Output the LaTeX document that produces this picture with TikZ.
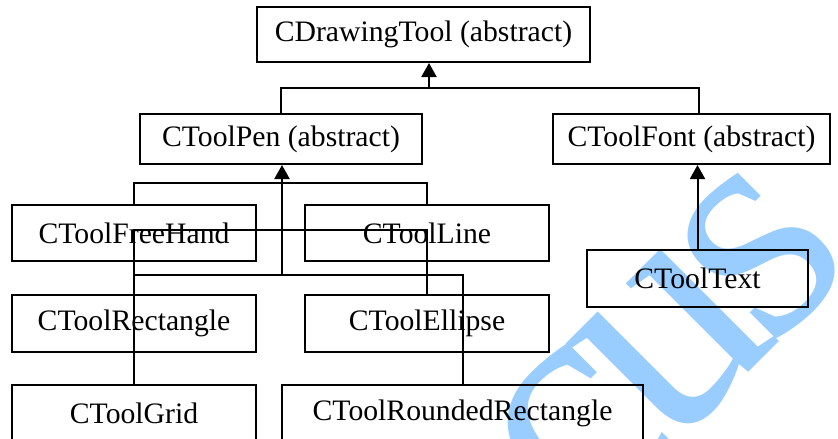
\documentclass[tikz,border=0pt]{standalone}
\usepackage{fontspec}
\setmainfont{Liberation Serif}
\usetikzlibrary{arrows.meta}
\definecolor{wmblue}{RGB}{153,204,255}

\begin{document}
\begin{tikzpicture}[x=1pt, y=-1pt, line width=2pt,
        cls/.style={draw, inner sep=0pt, minimum width=244pt, minimum height=57pt,
            font=\fontsize{29.7}{34}\selectfont},
        inh/.style={-{Triangle[length=14pt,width=15pt]}}]
        \useasboundingbox (0, 0) rectangle (838, 439);
        \clip (0, 0) rectangle (838, 439);
        \node[text=wmblue, rotate=45, anchor=base, inner sep=0pt, font=\fontsize{325}{325}\selectfont] (wm) at (720, 401) {c\kern-20pt u\kern-20pt s};
        \node[cls, minimum width=333pt, minimum height=55pt] (drawtool) at (423.5, 34.5) {CDrawingTool (abstract)};
        \node[cls, minimum width=282pt, minimum height=50pt] (pen) at (281, 139) {CToolPen (abstract)};
        \node[cls, minimum width=277pt, minimum height=50pt] (font) at (691.5, 139) {CToolFont (abstract)};
        \node[cls, minimum height=56pt] (freehand) at (134, 233) {CToolFreeHand};
        \node[cls, minimum height=56pt] (line) at (427, 233) {CToolLine};
        \node[cls, minimum width=221pt] (text) at (697.5, 278.5) {CToolText};
        \node[cls] (rect) at (134, 323.5) {CToolRectangle};
        \node[cls] (ellipse) at (427, 323.5) {CToolEllipse};
        \node[cls] (grid) at (134, 413.5) {CToolGrid};
        \node[cls, minimum width=361pt] (rounded) at (462.5, 413.5) {CToolRoundedRectangle};
        \coordinate (top) at (429, 88);
        \coordinate (penjoin) at (282, 275);
        \coordinate (mid) at (134, 230);
        \draw (pen.north) |- (top) -| ([xshift=7.5pt]font.north);
        \draw[inh] (top) -- (top |- drawtool.south);
        \draw[inh] (text.north) -- (text.north |- font.south);
        \draw[inh] (penjoin) -- (penjoin |- pen.south);
        \draw (freehand.north) -- ++(0, -21) -| (line.north);
        \draw (grid.north) -- (mid) -| (ellipse.north);
        \draw (mid |- penjoin) -| (rounded.north);
    \end{tikzpicture}
\end{document}
